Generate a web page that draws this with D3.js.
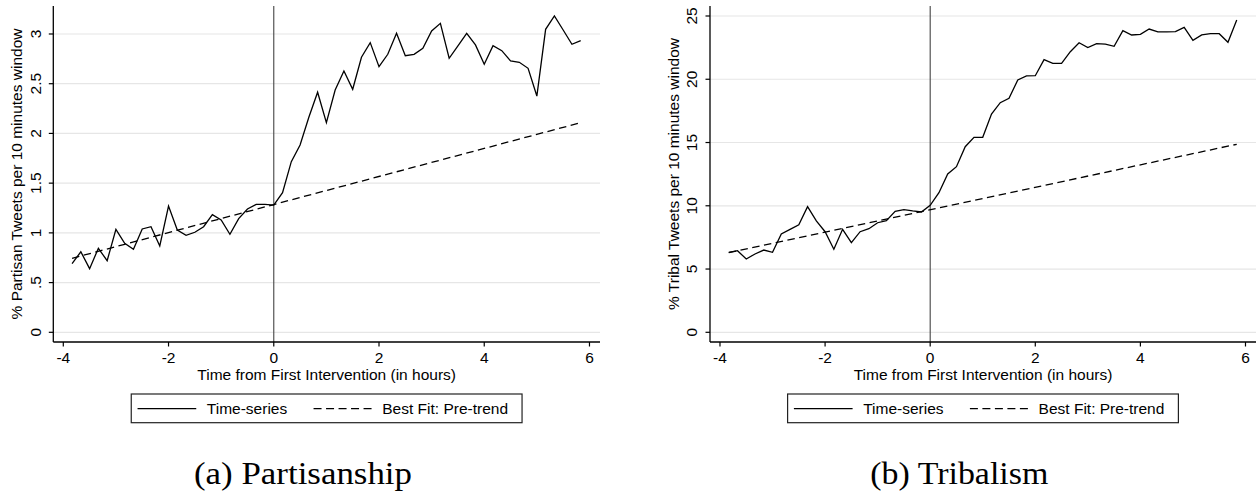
<!DOCTYPE html>
<html><head><meta charset="utf-8">
<script src="https://cdn.jsdelivr.net/npm/d3@7"></script>
<style>
body{margin:0;background:#fff}
svg{display:block}
text{font-family:"Liberation Sans",Arial,sans-serif;fill:#000}
</style>
</head><body>
<svg id="c" width="1256" height="493"></svg>
<script>
// ---- data ----
const minutes = [-230,-220,-210,-200,-190,-180,-170,-160,-150,-140,-130,-120,-110,-100,-90,-80,-70,-60,-50,-40,-30,-20,-10,0,
  10,20,30,40,50,60,70,80,90,100,110,120,130,140,150,160,170,180,190,200,210,220,230,240,250,260,270,280,290,300,310,320,330,340,350];
const partisan = [0.69,0.81,0.64,0.845,0.72,1.036,0.895,0.835,1.039,1.062,0.868,1.27,1.029,0.975,1.006,1.062,1.183,1.13,0.986,1.143,1.24,1.287,1.287,1.28,
  1.404,1.716,1.884,2.162,2.414,2.108,2.437,2.628,2.444,2.766,2.913,2.671,2.796,3.007,2.782,2.796,2.856,3.03,3.107,2.756,2.88,3.007,2.89,2.695,2.883,2.832,2.729,2.715,2.655,2.376,3.047,3.181,3.04,2.897,2.934];
const tribal = [6.32,6.45,5.79,6.19,6.5,6.32,7.77,8.14,8.5,9.93,8.8,7.95,6.56,8.14,7.08,7.95,8.19,8.66,8.82,9.56,9.69,9.59,9.51,10.04,
  11.03,12.51,13.09,14.67,15.41,15.41,17.25,18.15,18.49,19.94,20.26,20.28,21.55,21.26,21.26,22.18,22.89,22.5,22.81,22.78,22.6,23.84,23.5,23.55,23.97,23.74,23.74,23.77,24.1,23.08,23.5,23.6,23.6,22.92,24.68];
const fitMinutes = [-230, 350];
const partisanFit = [0.744, 2.108];
const tribalFit = [6.29, 14.86];
const xTicks = [-4,-2,0,2,4,6];
const partisanTicks = [0,0.5,1,1.5,2,2.5,3];
const partisanTickLabels = ["0",".5","1","1.5","2","2.5","3"];
const tribalTicks = [0,5,10,15,20,25];
const tribalTickLabels = ["0","5","10","15","20","25"];
const legendLabels = ["Time-series","Best Fit: Pre-trend"];
const captions = ["(a) Partisanship","(b) Tribalism"];
const yTitles = ["% Partisan Tweets per 10 minutes window","% Tribal Tweets per 10 minutes window"];
const xTitle = "Time from First Intervention (in hours)";

// ---- layout ----
const panels = [
  {x0:53.3, x1:600, yDom:[-0.0975,3.2815], series:partisan, fit:partisanFit, ticks:partisanTicks, labels:partisanTickLabels,
   title:yTitles[0], caption:captions[0], capX:303, capW:218},
  {x0:710, x1:1256, yDom:[-0.7667,25.79], series:tribal, fit:tribalFit, ticks:tribalTicks, labels:tribalTickLabels,
   title:yTitles[1], caption:captions[1], capX:959.3, capW:178}
];
const plotTop = 6, plotBottom = 342, FS = 15.5;
const svg = d3.select("#c");
svg.append("rect").attr("width",1256).attr("height",493).attr("fill","#fff");

panels.forEach(p => {
  const x = d3.scaleLinear().domain([-4.19, 6.2]).range([p.x0, p.x1]);
  const y = d3.scaleLinear().domain(p.yDom).range([plotBottom, plotTop]);
  const g = svg.append("g");

  // gridlines
  g.selectAll(".grid").data(p.ticks).join("line")
    .attr("x1", p.x0).attr("x2", p.x1)
    .attr("y1", d => y(d)).attr("y2", d => y(d))
    .attr("stroke", "#e6e6e6").attr("stroke-width", 1.2);

  // vertical line at 0
  g.append("line").attr("x1", x(0)).attr("x2", x(0)).attr("y1", plotTop).attr("y2", plotBottom)
    .attr("stroke", "#444").attr("stroke-width", 1.1);

  // fit line (dashed)
  const line = d3.line().x(d => x(d[0] / 60)).y(d => y(d[1]));
  g.append("path").datum(fitMinutes.map((m, i) => [m, p.fit[i]]))
    .attr("d", line).attr("fill", "none").attr("stroke", "#000")
    .attr("stroke-width", 1.3).attr("stroke-dasharray", "7.5,4.5");

  // time series
  g.append("path").datum(minutes.map((m, i) => [m, p.series[i]]))
    .attr("d", line).attr("fill", "none").attr("stroke", "#000")
    .attr("stroke-width", 1.3).attr("stroke-linejoin", "miter");

  // axes lines
  g.append("line").attr("x1", p.x0).attr("x2", p.x0).attr("y1", plotTop).attr("y2", plotBottom)
    .attr("stroke", "#000").attr("stroke-width", 1.3);
  g.append("line").attr("x1", p.x0).attr("x2", p.x1).attr("y1", plotBottom).attr("y2", plotBottom)
    .attr("stroke", "#000").attr("stroke-width", 1.3);

  // x ticks
  g.selectAll(".xt").data(xTicks).join("line")
    .attr("x1", d => x(d)).attr("x2", d => x(d)).attr("y1", plotBottom).attr("y2", plotBottom + 4.5)
    .attr("stroke", "#000").attr("stroke-width", 1.2);
  g.selectAll(".xl").data(xTicks).join("text")
    .attr("x", d => x(d)).attr("y", 363.3).attr("text-anchor", "middle")
    .style("font-size", FS + "px").text(d => d);

  // y ticks
  g.selectAll(".yt").data(p.ticks).join("line")
    .attr("x1", p.x0 - 4.5).attr("x2", p.x0).attr("y1", d => y(d)).attr("y2", d => y(d))
    .attr("stroke", "#000").attr("stroke-width", 1.2);
  g.selectAll(".yl").data(p.ticks).join("text")
    .attr("transform", d => `translate(${p.x0 - 12.8},${y(d)}) rotate(-90)`)
    .attr("text-anchor", "middle").style("font-size", FS + "px")
    .text((d, i) => p.labels[i]);

  // axis titles
  g.append("text").attr("transform", `translate(${p.x0 - 31},${(plotTop + plotBottom) / 2}) rotate(-90)`)
    .attr("text-anchor", "middle").style("font-size", FS + "px").text(p.title);
  g.append("text").attr("x", (p.x0 + p.x1) / 2).attr("y", 380)
    .attr("text-anchor", "middle").style("font-size", FS + "px").text(xTitle);

  // legend
  const lw = 390.8, lx = (p.x0 + p.x1) / 2 - lw / 2, ly = 394, lh = 28.7;
  g.append("rect").attr("x", lx).attr("y", ly).attr("width", lw).attr("height", lh)
    .attr("fill", "#fff").attr("stroke", "#222").attr("stroke-width", 1.2);
  g.append("line").attr("x1", lx + 6.3).attr("x2", lx + 65).attr("y1", ly + 14.7).attr("y2", ly + 14.7)
    .attr("stroke", "#000").attr("stroke-width", 1.3);
  g.append("text").attr("x", lx + 75.6).attr("y", ly + 20).style("font-size", FS + "px").text(legendLabels[0]);
  g.append("line").attr("x1", lx + 182.3).attr("x2", lx + 240.3).attr("y1", ly + 14.7).attr("y2", ly + 14.7)
    .attr("stroke", "#000").attr("stroke-width", 1.3).attr("stroke-dasharray", "8,4.5");
  g.append("text").attr("x", lx + 251).attr("y", ly + 20).style("font-size", FS + "px").text(legendLabels[1]);

  // caption
  g.append("text").attr("x", p.capX).attr("y", 484).attr("text-anchor", "middle")
    .attr("textLength", p.capW).attr("lengthAdjust", "spacingAndGlyphs")
    .style("font-family", "'Liberation Serif','DejaVu Serif',serif").style("font-size", "32px")
    .text(p.caption);
});
</script>
</body></html>
